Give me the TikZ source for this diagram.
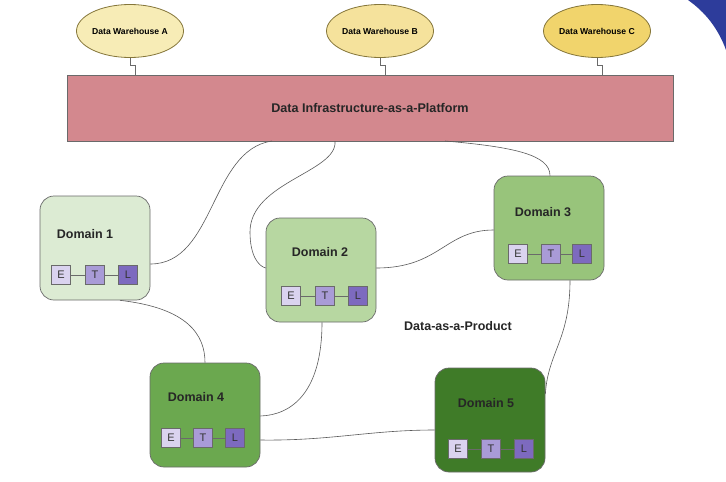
\documentclass[tikz,border=0pt]{standalone}
\usepackage{fontspec}
\setmainfont{Liberation Sans}
\usetikzlibrary{shapes.geometric}
\definecolor{edgegray}{HTML}{6A6A6A}
\definecolor{wireC}{HTML}{5A5A5A}
\definecolor{whA}{HTML}{F7ECB6}
\definecolor{whB}{HTML}{F5E29C}
\definecolor{whC}{HTML}{F1D46C}
\definecolor{whEdge}{HTML}{85763A}
\definecolor{platform}{HTML}{D3888E}
\definecolor{domA}{HTML}{DCEBD3}
\definecolor{domB}{HTML}{B7D7A1}
\definecolor{domC}{HTML}{98C47B}
\definecolor{domD}{HTML}{6BA84F}
\definecolor{domE}{HTML}{3F7B28}
\definecolor{etlE}{HTML}{DAD3EF}
\definecolor{etlT}{HTML}{A99BD7}
\definecolor{etlL}{HTML}{7D6ABF}
\definecolor{swoosh}{HTML}{2D3C9B}
\tikzset{
  warehouse/.style={ellipse, draw=whEdge, line width=0.8pt, minimum width=107, minimum height=53,
    font=\bfseries\fontsize{8.6}{10}\selectfont, inner sep=0pt},
  domainbox/.style={rectangle, rounded corners=14pt, draw=edgegray, line width=0.7pt,
    minimum width=110, minimum height=104},
  dtitle/.style={font=\bfseries\fontsize{12.5}{14}\selectfont, text=black!85},
  etl/.style={rectangle, draw=edgegray, line width=0.6pt, minimum size=19, inner sep=0pt,
    font=\fontsize{11}{12}\selectfont, text=black!80},
  wire/.style={draw=wireC, line width=0.6pt},
  stub/.style={draw=edgegray, line width=0.6pt}
}
\newcommand{\etlrow}[5]{%
  \node[etl, fill=etlE] (#1e) at (#2,#5) {E};
  \node[etl, fill=etlT] (#1t) at (#3,#5) {T};
  \node[etl, fill=etlL] (#1l) at (#4,#5) {L};
  \draw[stub] (#1e) -- (#1t);
  \draw[stub] (#1t) -- (#1l);
}
\begin{document}
\begin{tikzpicture}[x=1pt,y=-1pt]
\useasboundingbox (0,0) rectangle (726,482);
\fill[white] (0,0) rectangle (726,482);

% corner ornament
\fill[swoosh] (688,0) .. controls (705,12) and (718,28) .. (726,50) -- (726,0) -- cycle;

% platform
\node[rectangle, draw=edgegray, line width=0.7pt, fill=platform, minimum width=606, minimum height=66,
  font=\bfseries\fontsize{12.6}{14}\selectfont, text=black!85] (P) at (370,108) {Data Infrastructure-as-a-Platform};

% warehouses
\node[warehouse, fill=whA] (wa) at (130,31) {Data Warehouse A};
\node[warehouse, fill=whB] (wb) at (380,31) {Data Warehouse B};
\node[warehouse, fill=whC] (wc) at (597,31) {Data Warehouse C};
\draw[stub] (wa.south) -- ++(0,7) -| ([xshift=5pt]wa.south |- P.north);
\draw[stub] (wb.south) -- ++(0,7) -| ([xshift=5pt]wb.south |- P.north);
\draw[stub] (wc.south) -- ++(0,7) -| ([xshift=5pt]wc.south |- P.north);

% domains
\node[domainbox, fill=domA] (d1) at (95,248) {};
\node[domainbox, fill=domB] (d2) at (321,270) {};
\node[domainbox, fill=domC] (d3) at (549,228) {};
\node[domainbox, fill=domD] (d4) at (205,415) {};
\node[domainbox, fill=domE] (d5) at (490,420) {};

\node[dtitle] (t1) at (85,234) {Domain 1};
\node[dtitle] (t2) at (320,252) {Domain 2};
\node[dtitle] (t3) at (543,212) {Domain 3};
\node[dtitle] (t4) at (196,397) {Domain 4};
\node[dtitle] (t5) at (486,403) {Domain 5};

\etlrow{a}{61}{95}{128}{275}
\etlrow{b}{291}{325}{358}{296}
\etlrow{c}{518}{551}{582}{254}
\etlrow{d}{171}{203}{235}{438}
\etlrow{f}{458}{491}{524}{449}

\node[font=\bfseries\fontsize{12.5}{14}\selectfont, text=black!85] (prod) at (458,326) {Data-as-a-Product};

% links between platform and domains
\coordinate (p1) at (272,141);
\coordinate (p2) at (335,141);
\coordinate (p3) at (445,141);
\draw[wire] (p1) .. controls (210,150) and (215,264) .. (d1.east |- 0,264);
\draw[wire] (p2) .. controls (338,172) and (250,182) .. (250,232)
  .. controls (250,255) and (258,266) .. (d2.west |- 0,268);
\draw[wire] (p3) .. controls (515,147) and (550,155) .. (d3.north -| 550,0);

% links among domains
\draw[wire] (d2.east |- 0,268) .. controls (440,268) and (445,230) .. (d3.west |- 0,230);
\draw[wire] (d1.south -| 120,0) .. controls (188,308) and (205,335) .. (d4.north -| 205,0);
\draw[wire] (d2.south -| 322,0) .. controls (322,392) and (292,415) .. (d4.east |- 0,416);
\draw[wire] (d4.east |- 0,440) .. controls (330,441) and (370,430) .. (d5.west |- 0,430);
\draw[wire] (d3.south -| 570,0) .. controls (570,340) and (548,352) .. (d5.east |- 0,394);
\end{tikzpicture}
\end{document}
